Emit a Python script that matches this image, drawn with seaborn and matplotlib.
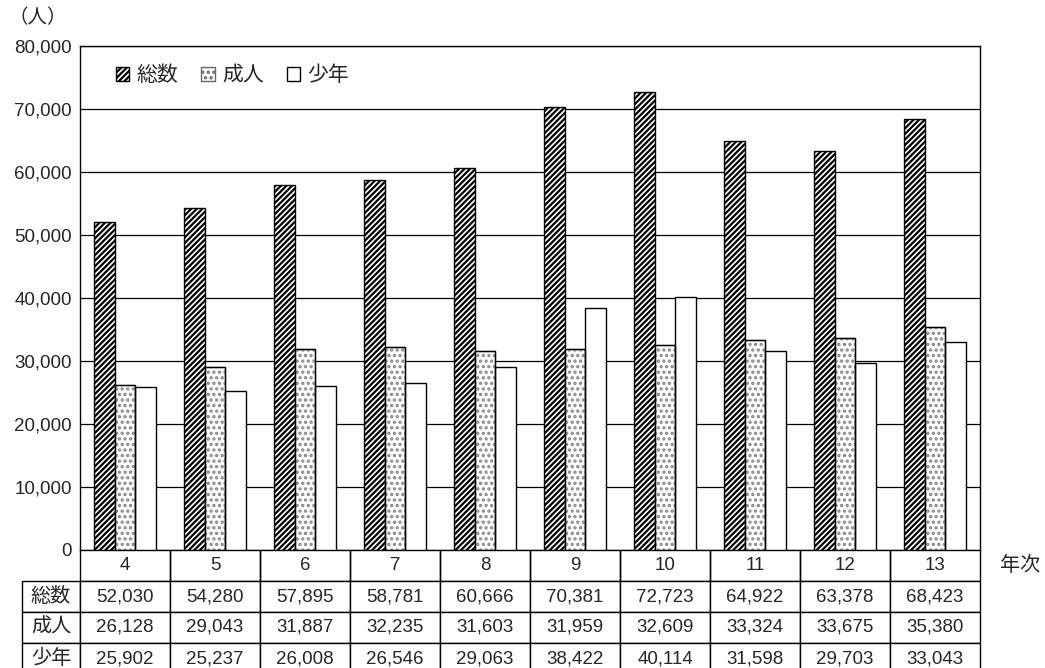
import matplotlib
matplotlib.use("Agg")
import matplotlib.pyplot as plt
import seaborn as sns
import pandas as pd
import matplotlib.ticker as mticker
from matplotlib.patches import Rectangle, Patch

years = ["4", "5", "6", "7", "8", "9", "10", "11", "12", "13"]
series = ["総数", "成人", "少年"]
total = [52030, 54280, 57895, 58781, 60666, 70381, 72723, 64922, 63378, 68423]
adult = [26128, 29043, 31887, 32235, 31603, 31959, 32609, 33324, 33675, 35380]
youth = [25902, 25237, 26008, 26546, 29063, 38422, 40114, 31598, 29703, 33043]
yticks = [0, 10000, 20000, 30000, 40000, 50000, 60000, 70000, 80000]

sns.set_theme(style="white")
plt.rcParams['font.family'] = ['Liberation Sans', 'Noto Sans CJK JP']
plt.rcParams['hatch.linewidth'] = 1.6

rows = []
for name, vals in zip(series, [total, adult, youth]):
    for y, v in zip(years, vals):
        rows.append({"年次": y, "系列": name, "値": v})
df = pd.DataFrame(rows)

fig = plt.figure(figsize=(10.45, 6.68), dpi=100)
ax = fig.add_axes([80/1045, 1-550/668, 900/1045, 504/668])

sns.barplot(data=df, x="年次", y="値", hue="系列", hue_order=series,
            order=years, palette=["white", "white", "white"], width=0.69, gap=0,
            edgecolor="black", linewidth=1.0, ax=ax, legend=False, zorder=3)

hatches = ["//////", "...", ""]
for cont, h in zip(ax.containers, hatches):
    for p in cont.patches:
        p.set_hatch(h)
        p.set_edgecolor("#888888" if h == "..." else "black")
        p.set_zorder(3)

for p in ax.containers[1].patches:
    ax.add_patch(Rectangle(p.get_xy(), p.get_width(), p.get_height(),
                           fill=False, edgecolor="black", lw=1.0, zorder=4))

ax.set_ylim(0, 80000)
ax.set_xlim(-0.5, len(years) - 0.5)
ax.set_yticks(yticks)
ax.yaxis.set_major_formatter(mticker.FuncFormatter(lambda v, p: f"{int(v):,}"))
ax.tick_params(axis="y", labelsize=13.5, direction="in", length=4, color="black", pad=6)
ax.tick_params(axis="x", bottom=False, labelbottom=False)
ax.set_xlabel("")
ax.set_ylabel("")
ax.grid(axis="y", color="black", lw=0.9, zorder=0)
ax.set_axisbelow(True)
for s in ax.spines.values():
    s.set_color("black")
    s.set_linewidth(1.0)

handles = [Patch(facecolor="white", edgecolor="black", hatch="//////"),
           Patch(facecolor="white", edgecolor="#666666", hatch="..."),
           Patch(facecolor="white", edgecolor="black")]
leg = ax.legend(handles, series, ncol=3, frameon=False, loc="center left",
                bbox_to_anchor=(0.019, 0.942), fontsize=15, handlelength=0.65,
                handleheight=0.65, handletextpad=0.35, columnspacing=1.1)

cell_text = [[""] + years,
             [series[0]] + [f"{v:,}" for v in total],
             [series[1]] + [f"{v:,}" for v in adult],
             [series[2]] + [f"{v:,}" for v in youth]]
tot_w = 958.0
col_w = [58/tot_w] + [90/tot_w] * len(years)
tbl = ax.table(cellText=cell_text, colWidths=col_w, cellLoc="center",
               bbox=[-58/900, -124/504, 958/900, 124/504])
tbl.auto_set_font_size(False)
tbl.set_fontsize(13.5)
for (r, c), cell in tbl.get_celld().items():
    cell.set_edgecolor("black")
    cell.set_linewidth(1.0)
    if c == 0 and r > 0:
        cell._loc = "left"
        cell.PAD = 0.06
        cell.get_text().set_fontsize(14.5)
    if r == 0 and c == 0:
        cell.visible_edges = ""
    if r == 0 and c > 0:
        cell.visible_edges = "BLR"

fig.text(1020/1045, 1-565/668, "年次", fontsize=14.5, ha="center", va="center")
fig.text(38/1045, 1-18/668, "（人）", fontsize=14, ha="center", va="center")

fig.savefig("out.png", dpi=100)
